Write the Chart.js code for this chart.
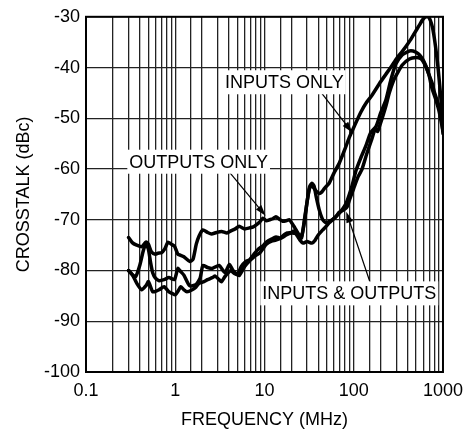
<!DOCTYPE html>
<html>
<head>
<meta charset="utf-8">
<title>Crosstalk vs Frequency</title>
<script src="https://cdn.jsdelivr.net/npm/chart.js@4.4.1/dist/chart.umd.min.js"></script>
<style>
  html, body { margin: 0; padding: 0; background: #fff; }
  #wrap { width: 471px; height: 431px; }
</style>
</head>
<body>
<div id="wrap"><canvas id="xtalkChart" width="471" height="431"></canvas></div>
<script>
/* crosstalk (dBc) vs frequency (MHz), three measured traces */

const outputsOnlyFreq = [
  0.3, 0.33, 0.37, 0.42, 0.47, 0.5, 0.54, 0.6, 0.64, 0.7,
  0.76, 0.83, 0.9, 0.98, 1.07, 1.15, 1.25, 1.45, 1.58, 1.72,
  1.85, 2.04, 2.3, 2.55, 2.9, 3.3, 3.8, 4.2, 4.7, 5.2,
  6.0, 6.8, 7.5, 8.1, 8.8, 9.6, 10.5, 11.4, 12.4, 13.4,
  14.7, 16, 17.5, 19, 20.5, 22.6, 24.5, 26, 28, 30,
  32, 34, 36, 38, 41, 45, 49, 55, 63, 72,
  82, 95, 106, 120, 137, 155, 178, 200, 230, 260,
  296, 350, 400, 437, 490, 537, 590, 640, 698, 750,
  820, 901, 1000
];
const outputsOnlyDb = [
  -73.5, -74.5, -75, -75.3, -74.4, -74.8, -76.3, -76.8, -76.6, -76.5,
  -75.8, -74.4, -74.8, -75.2, -76.8, -77, -77.3, -78.2, -77.8, -74.8,
  -73.2, -72, -72.5, -72.8, -72.5, -72.3, -72.6, -72.2, -71.8, -71.3,
  -71.8, -71.6, -71.4, -71, -70.5, -69.7, -70.2, -70, -69.8, -69.4,
  -69.9, -70.3, -70.2, -70, -70.8, -72, -73, -73.6, -70, -66.5,
  -63.5, -62.8, -63.4, -65.5, -68, -70, -70.6, -70.2, -69.4, -68.3,
  -66.8, -63.5, -60.3, -57.8, -55.4, -52.8, -51.6, -49, -46.3, -42.5,
  -39.3, -37.5, -36.9, -36.7, -36.9, -37.4, -38.3, -39.6, -41.5, -44,
  -46, -48.5, -52.5
];

const inputsOnlyFreq = [
  0.3, 0.33, 0.36, 0.4, 0.44, 0.47, 0.5, 0.53, 0.56, 0.6,
  0.66, 0.75, 0.85, 0.98, 1.07, 1.15, 1.25, 1.45, 1.7, 1.9,
  2.04, 2.3, 2.6, 3.1, 3.6, 4.05, 4.4, 4.8, 5.2, 6.0,
  7.0, 8.0, 8.8, 9.7, 10.5, 12, 13.4, 15.5, 17.5, 20,
  22.6, 24.5, 26, 28, 30, 32, 34, 36, 38, 41,
  44, 47, 53, 60, 69, 80, 89, 100, 120, 140,
  161, 200, 250, 300, 350, 386, 430, 480, 537, 590,
  640, 690, 760, 820, 880, 930, 975, 1000
];
const inputsOnlyDb = [
  -80, -80.8, -81.2, -79, -76, -74.8, -75.8, -78.5, -80.5, -81.5,
  -82, -81.8, -81.4, -81.8, -79.6, -80.2, -80.9, -83, -82.8, -81.5,
  -79, -79.4, -79.6, -79, -80.4, -78.8, -79.9, -80.6, -81, -79.2,
  -77.9, -77, -76.6, -75.6, -74.8, -74.2, -74, -73.6, -73, -72.6,
  -72.7, -73, -73.3, -70.5, -66.5, -63.8, -63.3, -63.8, -64.4, -64.8,
  -64.5, -63.8, -62.8, -60.8, -58.8, -56, -53.8, -51.8, -48.8, -46.8,
  -45.4, -42.8, -40.4, -38.3, -36.8, -35.8, -34.6, -33.2, -31.8, -30.6,
  -30, -30, -32, -35.5, -40, -44.5, -48.5, -52.5
];

const inputsOutputsFreq = [
  0.3, 0.33, 0.37, 0.42, 0.47, 0.5, 0.56, 0.62, 0.66, 0.75,
  0.85, 0.92, 1.0, 1.08, 1.15, 1.25, 1.35, 1.55, 1.7, 1.85,
  2.1, 2.3, 2.6, 2.8, 3.1, 3.3, 3.6, 3.9, 4.2, 4.6,
  5.0, 5.5, 6.2, 6.8, 7.6, 8.5, 9.5, 10.5, 12, 13.5,
  15, 16.5, 18, 20, 21.5, 23, 25, 27, 30, 34,
  37, 40, 45, 49, 53, 58, 63, 69, 75, 84,
  90, 100, 112, 124, 140, 160, 175, 185, 195, 210,
  230, 250, 280, 300, 350, 420, 500, 560, 600, 650,
  700, 754, 800, 860, 950, 1000
];
const inputsOutputsDb = [
  -80, -80.8, -82.5, -83.8, -83, -82.2, -84.2, -84, -83.8, -83.2,
  -84.2, -84.5, -84.8, -84, -83.2, -83.8, -84.2, -83.8, -83.3, -82.5,
  -82.2, -81.8, -81.4, -81.1, -81.8, -82.2, -81.2, -80.5, -80, -80.6,
  -80.8, -79.2, -78.2, -77.9, -76.8, -75.8, -75.2, -74.4, -73.8, -73.4,
  -73.6, -73, -72.6, -72.5, -72.2, -73, -74, -74.6, -74.3, -74.6,
  -74, -73, -72, -71.3, -70.6, -70, -69.4, -68.5, -68.2, -67.5,
  -66, -63.8, -61.5, -60, -57, -54, -52, -52.6, -51.5, -49.8,
  -47.5, -45, -42.5, -41.5, -39.5, -38.3, -38, -38.2, -38.8, -40,
  -41.5, -43, -44.8, -46.5, -49, -53
];

const yTickValues = [-100, -90, -80, -70, -60, -50, -40, -30];
const xDecades = [0.1, 1, 10, 100, 1000];

// callouts: label anchor and arrow, in data units (MHz, dBc)
const CALLOUTS = [
  { text: 'INPUTS ONLY', at: [16.7, -42.9], from: [37.2, -43.45], to: [96.2, -52.8] },
  { text: 'OUTPUTS ONLY', at: [1.83, -58.56], from: [3.48, -59.25], to: [10.3, -69.2] },
  { text: 'INPUTS & OUTPUTS', at: [89.1, -84.5], from: [157, -83.0], to: [82.4, -68.4] }
];

const FONT = '"Liberation Sans", Arial, Helvetica, sans-serif';

function toPoints(freq, db) {
  return freq.map((f, i) => ({ x: f, y: db[i] }));
}

function traceStyle(freq, db, label) {
  return {
    label: label,
    data: toPoints(freq, db),
    borderColor: '#000',
    backgroundColor: '#000',
    borderWidth: 3.5,
    borderJoinStyle: 'round',
    borderCapStyle: 'round',
    pointRadius: 0,
    tension: 0.2,
    fill: false
  };
}

const framePlugin = {
  id: 'frame',
  afterDatasetsDraw(chart) {
    const { ctx, chartArea: a } = chart;
    ctx.save();
    ctx.strokeStyle = '#000';
    ctx.lineWidth = 2;
    ctx.strokeRect(a.left, a.top, a.right - a.left, a.bottom - a.top);
    ctx.restore();
  }
};

const calloutPlugin = {
  id: 'callouts',
  afterDatasetsDraw(chart) {
    const { ctx, scales: { x, y } } = chart;
    ctx.save();
    ctx.font = '18px ' + FONT;
    CALLOUTS.forEach(c => {
      const x0 = x.getPixelForValue(c.from[0]), y0 = y.getPixelForValue(c.from[1]);
      const x1 = x.getPixelForValue(c.to[0]), y1 = y.getPixelForValue(c.to[1]);
      const ang = Math.atan2(y1 - y0, x1 - x0);
      ctx.strokeStyle = '#000';
      ctx.lineWidth = 1.2;
      ctx.beginPath();
      ctx.moveTo(x0, y0);
      ctx.lineTo(x1 - 8 * Math.cos(ang), y1 - 8 * Math.sin(ang));
      ctx.stroke();
      ctx.fillStyle = '#000';
      ctx.beginPath();
      ctx.moveTo(x1, y1);
      ctx.lineTo(x1 - 11 * Math.cos(ang) + 3.5 * Math.sin(ang), y1 - 11 * Math.sin(ang) - 3.5 * Math.cos(ang));
      ctx.lineTo(x1 - 11 * Math.cos(ang) - 3.5 * Math.sin(ang), y1 - 11 * Math.sin(ang) + 3.5 * Math.cos(ang));
      ctx.closePath();
      ctx.fill();
    });
    CALLOUTS.forEach(c => {
      const cx = x.getPixelForValue(c.at[0]), cy = y.getPixelForValue(c.at[1]);
      const w = ctx.measureText(c.text).width;
      ctx.fillStyle = '#fff';
      ctx.fillRect(cx - w / 2 - 2, cy - 12, w + 4, 24);
      ctx.fillStyle = '#000';
      ctx.textAlign = 'center';
      ctx.textBaseline = 'middle';
      ctx.fillText(c.text, cx, cy + 1);
    });
    ctx.restore();
  }
};

function isDecade(v) {
  const l = Math.log10(v);
  return Math.abs(l - Math.round(l)) < 1e-6;
}

function initChart() {
  const ctx = document.getElementById('xtalkChart');
  new Chart(ctx, {
    type: 'line',
    data: {
      datasets: [
        traceStyle(outputsOnlyFreq, outputsOnlyDb, 'OUTPUTS ONLY'),
        traceStyle(inputsOnlyFreq, inputsOnlyDb, 'INPUTS ONLY'),
        traceStyle(inputsOutputsFreq, inputsOutputsDb, 'INPUTS & OUTPUTS')
      ]
    },
    options: {
      responsive: false,
      animation: false,
      devicePixelRatio: 1,
      layout: { padding: { top: 13, right: 27, bottom: 0, left: 0 } },
      plugins: {
        legend: { display: false },
        tooltip: { enabled: false }
      },
      scales: {
        x: {
          type: 'logarithmic',
          min: xDecades[0],
          max: xDecades[xDecades.length - 1],
          afterFit: s => { s.height = 59; },
          ticks: {
            autoSkip: false,
            maxRotation: 0,
            padding: 8,
            color: '#000',
            font: { family: FONT, size: 18 },
            callback: v => (isDecade(v) && xDecades.some(d => Math.abs(d - v) < 1e-9) ? String(v) : '')
          },
          grid: { color: '#222', lineWidth: 1.3, drawTicks: false },
          border: { display: false },
          title: {
            display: true,
            text: 'FREQUENCY (MHz)',
            color: '#000',
            font: { family: FONT, size: 18 },
            padding: { top: 0, bottom: 0 }
          }
        },
        y: {
          type: 'linear',
          min: yTickValues[0],
          max: yTickValues[yTickValues.length - 1],
          afterFit: s => { s.width = 86; },
          afterBuildTicks: s => { s.ticks = yTickValues.map(v => ({ value: v })); },
          ticks: {
            padding: 6,
            color: '#000',
            font: { family: FONT, size: 18 }
          },
          grid: { color: '#222', lineWidth: 1.3, drawTicks: false },
          border: { display: false },
          title: {
            display: true,
            text: 'CROSSTALK (dBc)',
            color: '#000',
            font: { family: FONT, size: 18 },
            padding: { top: 13, bottom: 0 }
          }
        }
      }
    },
    plugins: [calloutPlugin, framePlugin]
  });
}

initChart();
</script>
</body>
</html>
